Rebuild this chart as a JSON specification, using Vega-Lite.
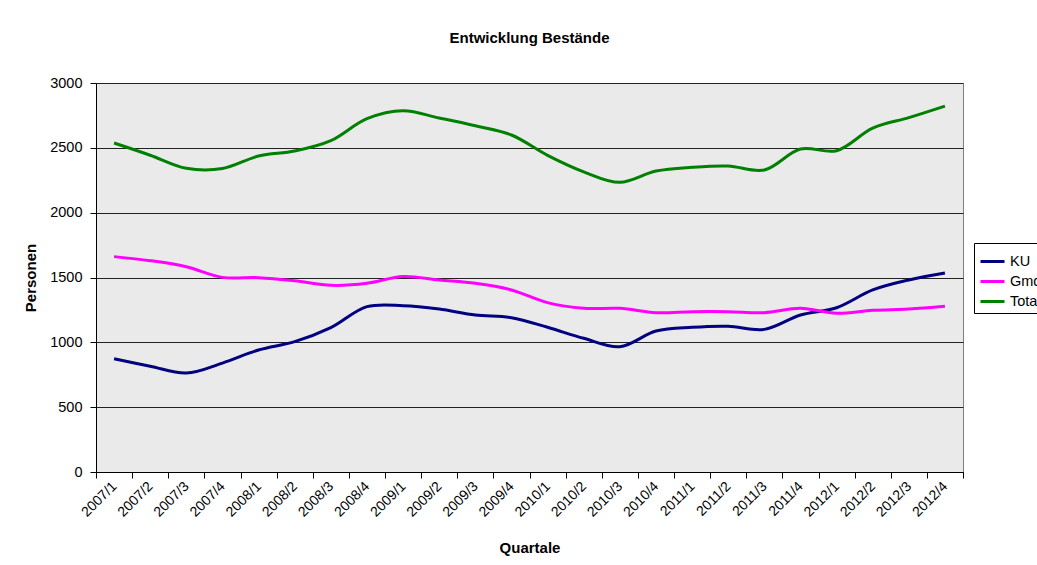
{
  "$schema": "https://vega.github.io/schema/vega-lite/v6.json",
  "width": 867,
  "height": 389,
  "autosize": {"type": "none"},
  "padding": {"left": 96, "top": 83, "right": 74, "bottom": 93},
  "background": "white",
  "title": {
    "text": "Entwicklung Bestände",
    "font": "Liberation Sans",
    "fontSize": 15,
    "fontWeight": "bold",
    "color": "black",
    "anchor": "middle",
    "offset": 29
  },
  "config": {
    "view": {"fill": "#EAEAEA", "stroke": "#808080", "strokeWidth": 1},
    "font": "Liberation Sans",
    "axis": {
      "labelFont": "Liberation Sans",
      "titleFont": "Liberation Sans",
      "labelColor": "black",
      "titleColor": "black",
      "domainColor": "black",
      "tickColor": "black",
      "tickSize": 6,
      "titleFontSize": 15,
      "titleFontWeight": "bold"
    }
  },
  "data": {
    "values": [
      {"q": "2007/1", "series": "KU", "value": 874}, {"q": "2007/1", "series": "Gmd", "value": 1661}, {"q": "2007/1", "series": "Total", "value": 2537},
      {"q": "2007/2", "series": "KU", "value": 816}, {"q": "2007/2", "series": "Gmd", "value": 1630}, {"q": "2007/2", "series": "Total", "value": 2443},
      {"q": "2007/3", "series": "KU", "value": 763}, {"q": "2007/3", "series": "Gmd", "value": 1583}, {"q": "2007/3", "series": "Total", "value": 2342},
      {"q": "2007/4", "series": "KU", "value": 840}, {"q": "2007/4", "series": "Gmd", "value": 1501}, {"q": "2007/4", "series": "Total", "value": 2340},
      {"q": "2008/1", "series": "KU", "value": 941}, {"q": "2008/1", "series": "Gmd", "value": 1499}, {"q": "2008/1", "series": "Total", "value": 2437},
      {"q": "2008/2", "series": "KU", "value": 1005}, {"q": "2008/2", "series": "Gmd", "value": 1475}, {"q": "2008/2", "series": "Total", "value": 2475},
      {"q": "2008/3", "series": "KU", "value": 1113}, {"q": "2008/3", "series": "Gmd", "value": 1440}, {"q": "2008/3", "series": "Total", "value": 2555},
      {"q": "2008/4", "series": "KU", "value": 1275}, {"q": "2008/4", "series": "Gmd", "value": 1455}, {"q": "2008/4", "series": "Total", "value": 2725},
      {"q": "2009/1", "series": "KU", "value": 1283}, {"q": "2009/1", "series": "Gmd", "value": 1508}, {"q": "2009/1", "series": "Total", "value": 2786},
      {"q": "2009/2", "series": "KU", "value": 1257}, {"q": "2009/2", "series": "Gmd", "value": 1481}, {"q": "2009/2", "series": "Total", "value": 2730},
      {"q": "2009/3", "series": "KU", "value": 1211}, {"q": "2009/3", "series": "Gmd", "value": 1455}, {"q": "2009/3", "series": "Total", "value": 2670},
      {"q": "2009/4", "series": "KU", "value": 1190}, {"q": "2009/4", "series": "Gmd", "value": 1404}, {"q": "2009/4", "series": "Total", "value": 2599},
      {"q": "2010/1", "series": "KU", "value": 1116}, {"q": "2010/1", "series": "Gmd", "value": 1306}, {"q": "2010/1", "series": "Total", "value": 2442},
      {"q": "2010/2", "series": "KU", "value": 1031}, {"q": "2010/2", "series": "Gmd", "value": 1262}, {"q": "2010/2", "series": "Total", "value": 2315},
      {"q": "2010/3", "series": "KU", "value": 966}, {"q": "2010/3", "series": "Gmd", "value": 1262}, {"q": "2010/3", "series": "Total", "value": 2234},
      {"q": "2010/4", "series": "KU", "value": 1087}, {"q": "2010/4", "series": "Gmd", "value": 1229}, {"q": "2010/4", "series": "Total", "value": 2321},
      {"q": "2011/1", "series": "KU", "value": 1116}, {"q": "2011/1", "series": "Gmd", "value": 1236}, {"q": "2011/1", "series": "Total", "value": 2350},
      {"q": "2011/2", "series": "KU", "value": 1124}, {"q": "2011/2", "series": "Gmd", "value": 1236}, {"q": "2011/2", "series": "Total", "value": 2360},
      {"q": "2011/3", "series": "KU", "value": 1100}, {"q": "2011/3", "series": "Gmd", "value": 1229}, {"q": "2011/3", "series": "Total", "value": 2329},
      {"q": "2011/4", "series": "KU", "value": 1211}, {"q": "2011/4", "series": "Gmd", "value": 1262}, {"q": "2011/4", "series": "Total", "value": 2491},
      {"q": "2012/1", "series": "KU", "value": 1267}, {"q": "2012/1", "series": "Gmd", "value": 1224}, {"q": "2012/1", "series": "Total", "value": 2478},
      {"q": "2012/2", "series": "KU", "value": 1404}, {"q": "2012/2", "series": "Gmd", "value": 1247}, {"q": "2012/2", "series": "Total", "value": 2652},
      {"q": "2012/3", "series": "KU", "value": 1481}, {"q": "2012/3", "series": "Gmd", "value": 1257}, {"q": "2012/3", "series": "Total", "value": 2733},
      {"q": "2012/4", "series": "KU", "value": 1535}, {"q": "2012/4", "series": "Gmd", "value": 1278}, {"q": "2012/4", "series": "Total", "value": 2822}
    ]
  },
  "mark": {"type": "line", "interpolate": "catmull-rom", "strokeWidth": 3},
  "encoding": {
    "x": {
      "field": "q",
      "type": "ordinal",
      "sort": null,
      "bandPosition": 0.5,
      "scale": {"type": "band", "paddingInner": 0, "paddingOuter": 0},
      "axis": {
        "title": "Quartale",
        "tickBand": "extent",
        "labelAngle": -45,
        "labelAlign": "right",
        "labelBaseline": "middle",
        "labelFontSize": 14,
        "labelPadding": 6,
        "titlePadding": 21,
        "grid": false
      }
    },
    "y": {
      "field": "value",
      "type": "quantitative",
      "scale": {"domain": [0, 3000], "nice": false},
      "axis": {
        "title": "Personen",
        "format": "d",
        "values": [0, 500, 1000, 1500, 2000, 2500, 3000],
        "labelFontSize": 14.5,
        "labelPadding": 8,
        "titlePadding": 11,
        "grid": true,
        "gridColor": "#222222",
        "gridWidth": 1
      }
    },
    "color": {
      "field": "series",
      "type": "nominal",
      "scale": {"domain": ["KU", "Gmd", "Total"], "range": ["#000080", "#FF00FF", "#008000"]},
      "legend": {
        "title": null,
        "orient": "none",
        "legendX": 878,
        "legendY": 160,
        "symbolType": "stroke",
        "symbolSize": 576,
        "symbolStrokeWidth": 3,
        "labelFont": "Liberation Sans",
        "labelFontSize": 14.5,
        "labelColor": "black",
        "labelOffset": 4,
        "rowPadding": -2,
        "padding": 5,
        "strokeColor": "black",
        "fillColor": "white"
      }
    }
  }
}
